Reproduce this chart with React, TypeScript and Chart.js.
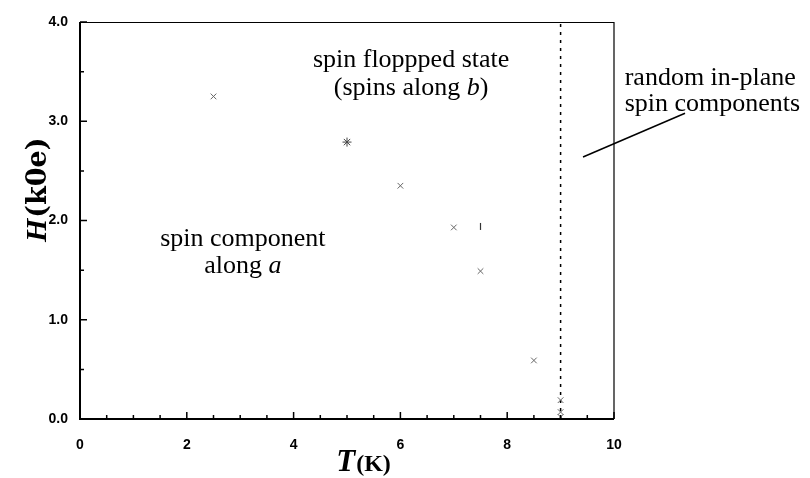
import React, { useEffect, useRef } from "react";
import { Chart, registerables } from "chart.js";

Chart.register(...registerables);

// Phase boundary points H(T), marked with crosses
const T_CROSS = [2.5, 6.0, 7.0, 7.5, 8.5, 9.0, 9.0, 9.0];
const H_CROSS = [3.25, 2.35, 1.93, 1.49, 0.59, 0.19, 0.07, 0.02];
// Point marked with a star
const T_STAR = [5.0];
const H_STAR = [2.79];
// Point marked with a short vertical bar
const T_BAR = [7.5];
const H_BAR = [1.94];
// Néel temperature (dashed vertical line)
const T_N = 9.0;
// Pointer line for the paramagnetic-region label
const T_POINTER = [9.42, 11.33];
const H_POINTER = [2.64, 3.08];

const X_MIN = 0;
const X_MAX = 10;
const Y_MIN = 0;
const Y_MAX = 4;
const X_MAJOR = 2;
const Y_MAJOR = 1;
const MINOR = 0.5;

const SERIF = "'Liberation Serif', 'Times New Roman', serif";
const WIDE_SERIF = "'DejaVu Serif', serif";
const TICK_FONT = "'Liberation Sans', Arial, sans-serif";

type Seg = { text: string; italic?: boolean };
type Note = { t: number; h: number; align: "left" | "center"; segs: Seg[] };

// Region labels placed in data coordinates
const NOTES: Note[] = [
  { t: 6.2, h: 3.55, align: "center", segs: [{ text: "spin floppped state" }] },
  {
    t: 6.2,
    h: 3.26,
    align: "center",
    segs: [{ text: "(spins along " }, { text: "b", italic: true }, { text: ")" }],
  },
  { t: 3.05, h: 1.74, align: "center", segs: [{ text: "spin component" }] },
  { t: 3.05, h: 1.47, align: "center", segs: [{ text: "along " }, { text: "a", italic: true }] },
  { t: 10.2, h: 3.37, align: "left", segs: [{ text: "random in-plane" }] },
  { t: 10.2, h: 3.1, align: "left", segs: [{ text: "spin components" }] },
];

const NOTE_SIZE = 26;

function drawSegs(ctx: CanvasRenderingContext2D, segs: Seg[], x: number, y: number, align: "left" | "center") {
  const fontOf = (s: Seg) => `${s.italic ? "italic " : ""}${NOTE_SIZE}px ${SERIF}`;
  let total = 0;
  for (const s of segs) {
    ctx.font = fontOf(s);
    total += ctx.measureText(s.text).width;
  }
  let cx = align === "center" ? x - total / 2 : x;
  ctx.textAlign = "left";
  ctx.textBaseline = "alphabetic";
  for (const s of segs) {
    ctx.font = fontOf(s);
    ctx.fillText(s.text, cx, y);
    cx += ctx.measureText(s.text).width;
  }
}

const framePlugin = {
  id: "frame",
  afterDatasetsDraw(chart: any) {
    const { ctx, chartArea } = chart;
    const xs = chart.scales.x;
    const ys = chart.scales.y;
    const { left, right, top, bottom } = chartArea;
    ctx.save();
    ctx.strokeStyle = "#000";
    // top and right frame
    ctx.lineWidth = 1.2;
    ctx.beginPath();
    ctx.moveTo(left, top + 0.5);
    ctx.lineTo(right, top + 0.5);
    ctx.lineTo(right, bottom);
    ctx.stroke();
    // heavy left and bottom axes
    ctx.lineWidth = 2;
    ctx.beginPath();
    ctx.moveTo(left, top);
    ctx.lineTo(left, bottom);
    ctx.lineTo(right, bottom);
    ctx.stroke();
    // inward ticks
    ctx.lineWidth = 1.5;
    ctx.beginPath();
    for (let v = X_MIN; v <= X_MAX + 1e-9; v += MINOR) {
      const px = xs.getPixelForValue(v);
      const major = Math.abs(v / X_MAJOR - Math.round(v / X_MAJOR)) < 1e-6;
      ctx.moveTo(px, bottom);
      ctx.lineTo(px, bottom - (major ? 7 : 4));
    }
    for (let v = Y_MIN; v <= Y_MAX + 1e-9; v += MINOR) {
      const py = ys.getPixelForValue(v);
      const major = Math.abs(v / Y_MAJOR - Math.round(v / Y_MAJOR)) < 1e-6;
      ctx.moveTo(left, py);
      ctx.lineTo(left + (major ? 7 : 4), py);
    }
    ctx.stroke();

    // region labels
    ctx.fillStyle = "#000";
    for (const n of NOTES) {
      drawSegs(ctx, n.segs, xs.getPixelForValue(n.t), ys.getPixelForValue(n.h), n.align);
    }

    ctx.textAlign = "left";
    ctx.textBaseline = "alphabetic";
    // x title: T(K)
    const bigT = `italic bold 31px ${SERIF}`;
    const unitK = `bold 24px ${SERIF}`;
    ctx.font = bigT;
    const wT = ctx.measureText("T").width;
    ctx.font = unitK;
    const wK = ctx.measureText("(K)").width;
    const x0 = 363 - (wT + wK) / 2;
    ctx.font = bigT;
    ctx.fillText("T", x0, 471);
    ctx.font = unitK;
    ctx.fillText("(K)", x0 + wT + 1, 471);

    // y title: H(k0e), rotated
    const bigH = `italic bold 30px ${SERIF}`;
    const unitH = `bold 27px ${WIDE_SERIF}`;
    ctx.font = bigH;
    const wH = ctx.measureText("H").width;
    ctx.translate(46, 242);
    ctx.rotate(-Math.PI / 2);
    ctx.fillText("H", 0, 0);
    ctx.font = unitH;
    ctx.fillText("(k0e)", wH + 1, 0);
    ctx.restore();
  },
};

export default function App() {
  const ref = useRef<HTMLCanvasElement | null>(null);

  useEffect(() => {
    document.body.style.margin = "0";
    const canvas = ref.current;
    if (!canvas) return;
    const pts = (xs: number[], ys: number[]) => xs.map((x, i) => ({ x, y: ys[i] }));
    const chart = new Chart(canvas, {
      type: "scatter",
      data: {
        datasets: [
          {
            data: pts(T_CROSS, H_CROSS),
            pointStyle: "crossRot",
            pointRadius: 4,
            borderColor: "#666",
            backgroundColor: "#666",
            borderWidth: 1,
          },
          {
            data: pts(T_STAR, H_STAR),
            pointStyle: "star",
            pointRadius: 4.5,
            borderColor: "#444",
            backgroundColor: "#444",
            borderWidth: 1,
          },
          {
            data: pts(T_BAR, H_BAR),
            pointStyle: "line",
            rotation: 90,
            pointRadius: 3.5,
            borderColor: "#333",
            backgroundColor: "#333",
            borderWidth: 1.2,
          },
          {
            data: [
              { x: T_N, y: Y_MIN },
              { x: T_N, y: Y_MAX },
            ],
            showLine: true,
            pointRadius: 0,
            borderColor: "#000",
            borderWidth: 1.5,
            borderDash: [3, 5],
          },
          {
            data: pts(T_POINTER, H_POINTER),
            showLine: true,
            pointRadius: 0,
            borderColor: "#000",
            borderWidth: 1.5,
            clip: false,
          } as any,
        ],
      },
      options: {
        responsive: false,
        animation: false,
        layout: { padding: { top: 22, right: 196, left: 0, bottom: 0 } },
        plugins: { legend: { display: false }, tooltip: { enabled: false } },
        scales: {
          x: {
            type: "linear",
            min: X_MIN,
            max: X_MAX,
            grid: { display: false, drawTicks: false },
            border: { display: false },
            ticks: {
              stepSize: X_MAJOR,
              padding: 18,
              color: "#000",
              font: { family: TICK_FONT, weight: "bold", size: 14 },
              callback: (v: any) => String(v),
            },
            afterFit: (s: any) => {
              s.height = 59;
            },
          },
          y: {
            type: "linear",
            min: Y_MIN,
            max: Y_MAX,
            grid: { display: false, drawTicks: false },
            border: { display: false },
            ticks: {
              stepSize: Y_MAJOR,
              padding: 12,
              color: "#000",
              font: { family: TICK_FONT, weight: "bold", size: 14 },
              callback: (v: any) => Number(v).toFixed(1),
            },
            afterFit: (s: any) => {
              s.width = 80;
            },
          },
        },
      },
      plugins: [framePlugin],
    });
    return () => chart.destroy();
  }, []);

  return (
    <div style={{ width: 810, height: 478, background: "#fff" }}>
      <canvas ref={ref} width={810} height={478} />
    </div>
  );
}
